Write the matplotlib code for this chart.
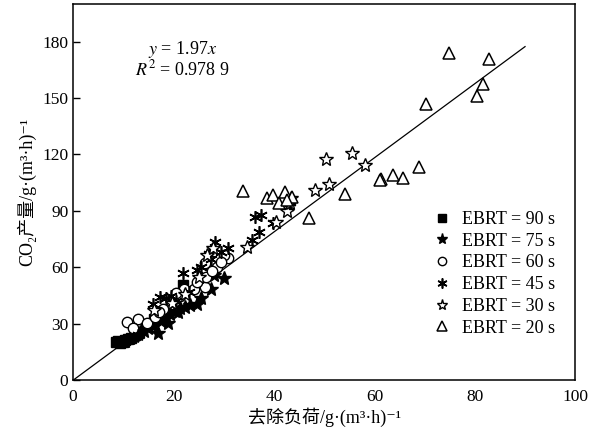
import matplotlib
matplotlib.use("Agg")
import matplotlib.pyplot as plt
import numpy as np

plt.rcParams["font.family"] = ["Liberation Serif", "DejaVu Serif", "Noto Sans CJK SC"]
plt.rcParams["mathtext.fontset"] = "stix"

# removal load (x) and CO2 production (y) per EBRT group
x_90 = [8.5, 9.0, 9.4, 10.0, 10.4, 11.0, 11.6, 12.3, 13.2, 14.6, 16.2, 21.8]
y_90 = [20.2, 20.8, 19.8, 20.4, 21.2, 21.8, 22.6, 24.0, 25.5, 29.0, 32.5, 50.5]

x_75 = [10.4, 11.3, 12.2, 13.0, 13.3, 14.2, 15.0, 16.0, 16.9, 17.5, 18.4, 19.3,
        20.2, 21.2, 22.3, 23.2, 24.6, 25.4, 27.4, 28.0, 30.1, 18.8, 20.8]
y_75 = [21.0, 22.4, 23.6, 24.5, 25.7, 26.0, 27.6, 29.0, 25.2, 31.2, 33.0, 35.2,
        37.0, 38.2, 39.0, 40.2, 40.5, 43.8, 48.5, 55.8, 54.2, 30.4, 36.0]

x_60 = [10.7, 13.0, 14.8, 16.3, 12.0, 17.8, 19.4, 21.2, 22.0, 24.0, 26.3, 26.5,
        26.3, 28.6, 30.9, 30.0, 24.6, 27.6, 29.4, 17.0, 20.4]
y_60 = [31.1, 32.3, 30.6, 33.8, 28.0, 38.0, 42.0, 44.5, 48.3, 48.3, 49.4, 55.1,
        62.2, 60.4, 64.9, 66.6, 52.0, 58.0, 63.0, 36.0, 46.5]

x_45 = [15.9, 17.3, 18.5, 19.5, 20.5, 21.8, 24.6, 25.5, 27.0, 27.5, 28.3, 29.5,
        30.9, 35.6, 37.1, 36.3, 37.4, 39.9, 42.8, 43.2, 13.0, 23.0]
y_45 = [40.5, 44.4, 43.5, 45.0, 42.0, 57.2, 58.6, 60.0, 67.2, 64.5, 73.2, 68.0,
        70.1, 74.6, 78.7, 86.7, 87.9, 83.5, 92.0, 94.5, 24.0, 47.0]

x_30 = [50.3, 55.6, 58.2, 51.0, 48.1, 42.6, 43.2, 43.4, 40.4, 34.6, 26.6, 27.8,
        22.2, 25.0, 16.2, 19.6]
y_30 = [117.3, 120.5, 114.3, 104.3, 100.9, 89.7, 94.2, 96.8, 84.0, 71.0, 66.6,
        70.0, 46.0, 55.0, 37.5, 41.0]

x_20 = [74.9, 82.9, 81.6, 80.4, 70.3, 68.8, 65.7, 63.8, 61.3, 61.2, 54.2, 46.9,
        33.8, 38.6, 39.9, 42.1, 43.6, 40.9, 42.6]
y_20 = [174.1, 170.9, 157.2, 151.0, 146.6, 113.4, 107.5, 108.9, 107.1, 106.4,
        99.0, 86.0, 100.6, 96.8, 98.4, 100.2, 97.6, 94.2, 96.0]

slope = 1.97
r2_text = "0.978 9"
fit_x = [0, 90]

fig = plt.figure(figsize=(5.9, 4.34), dpi=100)
ax = fig.add_axes([0.124, 0.124, 0.851, 0.867])

asterisk = (6, 2, 0)
ax.plot(x_90, y_90, ls="none", marker="s", ms=6.5, mfc="black", mec="black",
        label="EBRT = 90 s")
ax.plot(x_75, y_75, ls="none", marker="*", ms=10, mfc="black", mec="black",
        label="EBRT = 75 s")
ax.plot(x_60, y_60, ls="none", marker="o", ms=7.5, mfc="white", mec="black",
        mew=1.0, label="EBRT = 60 s")
ax.plot(x_45, y_45, ls="none", marker=asterisk, ms=9, mfc="black", mec="black",
        mew=1.2, label="EBRT = 45 s")
ax.plot(x_30, y_30, ls="none", marker="*", ms=10, mfc="white", mec="black",
        mew=1.0, label="EBRT = 30 s")
ax.plot(x_20, y_20, ls="none", marker="^", ms=9, mfc="white", mec="black",
        mew=1.1, label="EBRT = 20 s")

fx = np.array(fit_x, dtype=float)
ax.plot(fx, slope * fx, color="black", lw=0.9, zorder=1)

ax.text(21.7, 176.0, f"$y$ = {slope:.2f}$x$", fontsize=13, ha="center", va="center")
ax.text(21.7, 165.0, f"$R^2$ = {r2_text}", fontsize=13, ha="center", va="center")

ax.set_xlim(0, 100)
ax.set_ylim(0, 200)
ax.set_xticks([0, 20, 40, 60, 80, 100])
ax.set_yticks([0, 30, 60, 90, 120, 150, 180])
ax.tick_params(axis="y", direction="in", length=5, width=1.0, labelsize=12.5)
ax.tick_params(axis="x", direction="in", length=0, labelsize=12.5, pad=6)
for sp in ax.spines.values():
    sp.set_linewidth(1.1)

# plain unicode super/subscripts so the CJK fallback font is used
ax.set_xlabel("去除负荷/g·(m³·h)⁻¹", fontsize=13, labelpad=2)
ax.set_ylabel("CO₂产量/g·(m³·h)⁻¹", fontsize=13, labelpad=4)

ax.legend(loc="lower right", bbox_to_anchor=(0.96, 0.116), frameon=False,
          fontsize=13, markerscale=0.8, handletextpad=0.6, labelspacing=0.26,
          borderpad=0, borderaxespad=0, handlelength=1.0)

fig.savefig("out.png", dpi=100)
